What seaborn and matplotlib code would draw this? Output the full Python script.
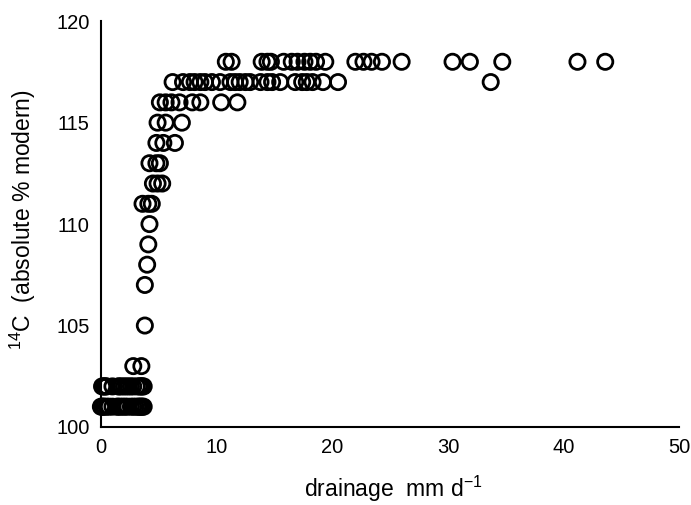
import matplotlib
matplotlib.use('Agg')
import matplotlib.pyplot as plt
import seaborn as sns
import pandas as pd

sns.set_style('ticks')
plt.rcParams['font.family'] = ['Liberation Sans', 'DejaVu Sans']
plt.rcParams['mathtext.default'] = 'regular'
plt.rcParams['text.color'] = 'black'
plt.rcParams['axes.labelcolor'] = 'black'
plt.rcParams['xtick.color'] = 'black'
plt.rcParams['ytick.color'] = 'black'

# drainage (mm/d) and 14C (absolute % modern), one row per 14C level
drainage = [
    0.0, 0.1, 0.2, 0.3, 0.5, 0.7, 1.0, 1.4, 1.5, 1.7, 1.9, 2.1, 2.3, 2.6, 2.8,
    3.0, 3.2, 3.3, 3.4, 3.5, 3.6, 3.7,
    0.1, 0.2, 0.3, 0.4, 0.5, 1.0, 1.5, 1.6, 1.8, 2.0, 2.2, 2.4, 2.6, 2.8,
    3.1, 3.3, 3.4, 3.5, 3.6, 3.7,
    2.8, 3.5,
    3.8,
    3.8,
    4.0,
    4.1,
    4.2,
    3.6, 4.1, 4.4,
    4.5, 4.9, 5.3,
    4.2, 4.8, 5.1,
    4.8, 5.4, 6.4,
    4.9, 5.6, 7.0,
    5.1, 5.6, 6.1, 6.8, 7.9, 8.6, 10.4, 11.8,
    6.2, 7.1, 7.7, 8.1, 8.6, 9.0, 9.6, 10.3, 11.2, 11.6, 12.0, 12.5, 12.9,
    13.8, 14.4, 14.8, 15.5, 16.8, 17.4, 17.8, 18.3, 19.2, 20.5, 33.7,
    10.8, 11.3, 13.9, 14.4, 14.7, 15.8, 16.5, 17.0, 17.6, 18.1, 18.6, 19.4,
    22.0, 22.7, 23.4, 24.3, 26.0, 30.4, 31.9, 34.7, 41.2, 43.6,
]
c14 = (
    [101] * 22 + [102] * 20 + [103] * 2 + [105] + [107] + [108] + [109] + [110]
    + [111] * 3 + [112] * 3 + [113] * 3 + [114] * 3 + [115] * 3 + [116] * 8
    + [117] * 24 + [118] * 22
)

df = pd.DataFrame({'drainage': drainage, 'c14': c14})

fig = plt.figure(figsize=(6.91, 5.05), dpi=100)
ax = fig.add_axes([0.146, 0.1545, 0.837, 0.8035])

sns.scatterplot(data=df, x='drainage', y='c14', ax=ax, s=120, marker='o',
                facecolor='none', edgecolor='black', linewidth=2.0,
                clip_on=False, zorder=3)

ax.set_xlim(0, 50)
ax.set_ylim(100, 120)
ax.set_xticks(range(0, 51, 10))
ax.set_yticks(range(100, 121, 5))
ax.tick_params(length=0, labelsize=14.5, pad=8)
for side in ['top', 'right']:
    ax.spines[side].set_visible(False)
for side in ['left', 'bottom']:
    ax.spines[side].set_linewidth(1.5)
    ax.spines[side].set_color('black')

ax.set_xlabel(r'drainage  mm d$^{-1}$', fontsize=16.5)
ax.set_ylabel(r'$^{14}$C  (absolute % modern)', fontsize=16.5)
ax.xaxis.set_label_coords(0.505, -0.116)
ax.yaxis.set_label_coords(-0.109, 0.51)

fig.savefig('out.png', dpi=100)
